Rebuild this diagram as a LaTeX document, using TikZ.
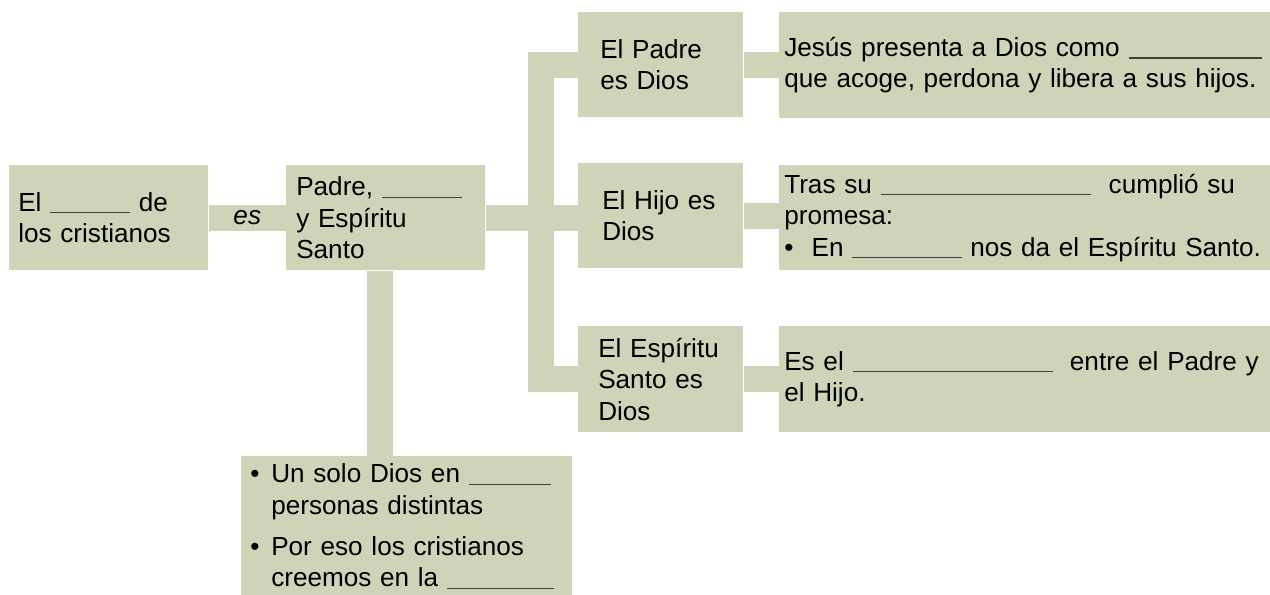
\documentclass[tikz,border=0pt]{standalone}
\usepackage{fontspec}
\setmainfont{Liberation Sans}
\definecolor{boxcol}{RGB}{207,211,184}
\newcommand{\blank}[1]{{\color{black!75}\rule[-1.5pt]{#1}{0.9pt}}}
\newcommand{\bul}[1]{\makebox[#1][l]{•}}
\begin{document}
\begin{tikzpicture}[x=0.75pt,y=-0.75pt,
  box/.style={fill=boxcol, draw=none, anchor=north west, align=left, inner ysep=0pt,
    font=\fontsize{19.6pt}{23.5pt}\selectfont},
  band/.style={draw=boxcol, line width=19.5pt, line join=miter},
  lbl/.style={font=\fontsize{19.6pt}{23.5pt}\selectfont\itshape, inner sep=0pt}]
\useasboundingbox (0,0) rectangle (1270,594);
\clip (0,0) rectangle (1270,594);
% main boxes
\node[box, minimum height=78.75pt, text width=135.75pt, inner xsep=6.75pt] (b1) at (9,165)
  {El \blank{60pt} de\\los cristianos};
\node[box, minimum height=78.75pt, text width=134.25pt, inner xsep=7.5pt] (b2) at (286,165)
  {Padre, \blank{60pt}\\y Espíritu\\Santo};
% three persons
\node[box, minimum height=78.75pt, text width=90.75pt, inner xsep=16.5pt] (padre) at (578,12)
  {El Padre\\es Dios};
\node[box, minimum height=78.75pt, text width=87.75pt, inner xsep=18pt] (hijo) at (578,163)
  {El Hijo es\\Dios};
\node[box, minimum height=79.5pt, text width=93.75pt, inner xsep=15pt] (esp) at (578,326)
  {El Espíritu\\Santo es\\Dios};
% text boxes
\node[box, minimum height=79.5pt, text width=380pt, inner xsep=3.75pt] (t1) at (779,12)
  {Jesús presenta a Dios como \blank{100pt}\\que acoge, perdona y libera a sus hijos.};
\node[box, minimum height=78.75pt, text width=380pt, inner xsep=3.75pt] (t2) at (779,165)
  {Tras su \blank{158pt}\ \ cumplió su\\promesa:\\\bul{20.5pt}En \blank{82pt} nos da el Espíritu Santo.};
\node[box, minimum height=79.5pt, text width=380pt, inner xsep=3.75pt] (t3) at (779,326)
  {Es el \blank{150pt}\ \ entre el Padre y\\el Hijo.};
% bottom box
\node[box, text width=234.75pt, inner xsep=6.75pt, inner ysep=5.65pt] (bot) at (241,456)
  {\bul{15.75pt}Un solo Dios en \blank{62pt}\\
   \hspace*{15.75pt}personas distintas\\[7.5pt]
   \bul{15.75pt}Por eso los cristianos\\
   \hspace*{15.75pt}creemos en la \blank{80pt}\rule[-14pt]{0pt}{14pt}};
% connectors
\coordinate (tk) at (541,216);
\coordinate (stm) at (380,0);
\draw[band] (b1.east) -- node[lbl] (es) {es} (b2.west);
\draw[band] (b2.east) -- (b2.east -| hijo.west);
\draw[band] (padre.west) -| (tk) |- (esp.west);
\draw[band] (b2.south -| stm) -- (bot.north -| stm);
\draw[band] (padre.east) -- (padre.east -| t1.west);
\draw[band] (hijo.east) -- (hijo.east -| t2.west);
\draw[band] (esp.east) -- (esp.east -| t3.west);
\end{tikzpicture}
\end{document}
